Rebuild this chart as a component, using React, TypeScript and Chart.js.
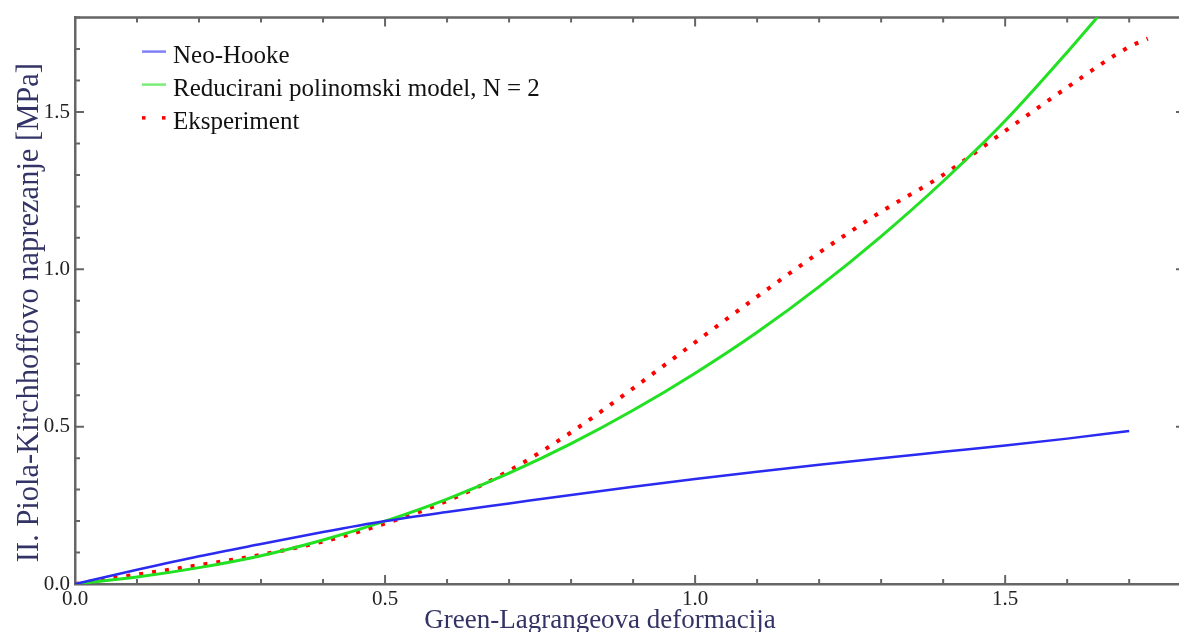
import React, { useEffect, useRef } from 'react';
import { Chart, registerables } from 'chart.js';

Chart.register(...registerables);

// ---- data ----
const strainNeo = [0, 0.1, 0.2, 0.3, 0.4, 0.5, 0.6, 0.7, 0.8, 0.9, 1.0, 1.1, 1.2, 1.3, 1.4, 1.5, 1.6, 1.7];
const stressNeo = [0, 0.045, 0.088, 0.127, 0.165, 0.2, 0.229, 0.256, 0.283, 0.309, 0.334, 0.357, 0.379, 0.4, 0.42, 0.44, 0.462, 0.486];

const strainPoly = [0, 0.1, 0.2, 0.3, 0.4, 0.5, 0.6, 0.7, 0.8, 0.9, 1.0, 1.1, 1.2, 1.3, 1.4, 1.5, 1.6, 1.7];
const stressPoly = [0, 0.022, 0.052, 0.09, 0.14, 0.2, 0.27, 0.352, 0.446, 0.552, 0.67, 0.8, 0.945, 1.105, 1.28, 1.472, 1.69, 1.92];

const strainExp = [0, 0.1, 0.2, 0.3, 0.4, 0.5, 0.6, 0.7, 0.8, 0.9, 1.0, 1.1, 1.2, 1.3, 1.4, 1.5, 1.6, 1.7, 1.73];
const stressExp = [0, 0.03, 0.06, 0.093, 0.135, 0.192, 0.264, 0.36, 0.482, 0.622, 0.768, 0.913, 1.053, 1.183, 1.3, 1.44, 1.578, 1.707, 1.733];

const seriesLabels = ['Neo-Hooke', 'Reducirani polinomski model, N = 2', 'Eksperiment'];
const seriesColors = ['#2a2af0', '#22e022', '#ff0000'];
const xTickLabels = ['0.0', '0.5', '1.0', '1.5'];
const yTickLabels = ['0.0', '0.5', '1.0', '1.5'];
const xTitle = 'Green-Lagrangeova deformacija';
const yTitle = 'II. Piola-Kirchhoffovo naprezanje [MPa]';

const X_MIN = 0;
const X_MAX = 1.79;
const Y_MIN = 0;
const Y_MAX = 1.8;
const MINOR_STEP = 0.1;
const MAJOR_STEP = 0.5;

const SERIF = '"Liberation Serif", "Times New Roman", serif';
const AXIS_COLOR = '#666666';
const TITLE_COLOR = '#333366';

const isMajor = (v: number) => Math.abs(v / MAJOR_STEP - Math.round(v / MAJOR_STEP)) < 1e-6;

const zip = (xs: number[], ys: number[]) => xs.map((x, i) => ({ x, y: ys[i] }));

const frameTicksPlugin = {
  id: 'frameTicks',
  beforeDatasetsDraw(chart: any) {
    const { ctx, chartArea } = chart;
    const { left, right, top, bottom } = chartArea;
    const xs = chart.scales.x;
    const ys = chart.scales.y;
    ctx.save();
    ctx.strokeStyle = AXIS_COLOR;
    ctx.lineWidth = 2.5;
    ctx.beginPath();
    ctx.moveTo(left, top);
    ctx.lineTo(right, top);
    ctx.moveTo(right, top);
    ctx.lineTo(right, bottom);
    ctx.stroke();
    ctx.lineWidth = 2;
    ctx.beginPath();
    xs.ticks.forEach((t: any) => {
      const p = xs.getPixelForValue(t.value);
      const len = isMajor(t.value) ? 9 : 5;
      ctx.moveTo(p, bottom);
      ctx.lineTo(p, bottom - len);
      ctx.moveTo(p, top);
      ctx.lineTo(p, top + len);
    });
    ys.ticks.forEach((t: any) => {
      const p = ys.getPixelForValue(t.value);
      const len = isMajor(t.value) ? 9 : 5;
      ctx.moveTo(left, p);
      ctx.lineTo(left + len, p);
      ctx.moveTo(right, p);
      ctx.lineTo(right - len, p);
    });
    ctx.stroke();
    ctx.restore();
  },
  afterDraw(chart: any) {
    const { ctx, chartArea } = chart;
    ctx.save();
    ctx.fillStyle = TITLE_COLOR;
    ctx.textAlign = 'center';
    ctx.textBaseline = 'middle';
    // x-axis title
    ctx.font = `27px ${SERIF}`;
    ctx.fillText(xTitle, chartArea.left + 525, chartArea.bottom + 37);
    // y-axis title
    ctx.font = `30.5px ${SERIF}`;
    ctx.translate(30, chartArea.top + 295);
    ctx.rotate(-Math.PI / 2);
    ctx.fillText(yTitle, 0, 0);
    ctx.restore();
  },
};

const innerLegendPlugin = {
  id: 'innerLegend',
  afterDatasetsDraw(chart: any) {
    const { ctx, chartArea } = chart;
    const x0 = chartArea.left + 67;
    const x1 = chartArea.left + 91;
    const tx = chartArea.left + 98;
    ctx.save();
    ctx.font = `25px ${SERIF}`;
    ctx.textBaseline = 'middle';
    ctx.textAlign = 'left';
    chart.data.datasets.forEach((ds: any, i: number) => {
      const ly = chartArea.top + 34 + i * 33;
      if (ds.borderDash && ds.borderDash.length) {
        ctx.fillStyle = ds.borderColor;
        ctx.fillRect(x0, ly - 1.5, 3.5, 3.5);
        ctx.fillRect(x1 - 4, ly - 1.5, 3.5, 3.5);
      } else {
        ctx.strokeStyle = ds.borderColor;
        ctx.globalAlpha = 0.6;
        ctx.lineWidth = 2.5;
        ctx.beginPath();
        ctx.moveTo(x0, ly);
        ctx.lineTo(x1, ly);
        ctx.stroke();
        ctx.globalAlpha = 1;
      }
      ctx.fillStyle = '#111111';
      ctx.fillText(ds.label, tx, ly + 5);
    });
    ctx.restore();
  },
};

export default function App() {
  const canvasRef = useRef<HTMLCanvasElement | null>(null);

  useEffect(() => {
    if (!canvasRef.current) return;
    const chart = new Chart(canvasRef.current, {
      type: 'line',
      data: {
        datasets: [
          {
            label: seriesLabels[0],
            data: zip(strainNeo, stressNeo),
            borderColor: seriesColors[0],
            borderWidth: 2.5,
            pointRadius: 0,
            cubicInterpolationMode: 'monotone',
            fill: false,
          },
          {
            label: seriesLabels[1],
            data: zip(strainPoly, stressPoly),
            borderColor: seriesColors[1],
            borderWidth: 3,
            pointRadius: 0,
            cubicInterpolationMode: 'monotone',
            fill: false,
          },
          {
            label: seriesLabels[2],
            data: zip(strainExp, stressExp),
            borderColor: seriesColors[2],
            borderWidth: 4,
            borderDash: [4, 9],
            borderCapStyle: 'butt',
            pointRadius: 0,
            cubicInterpolationMode: 'monotone',
            fill: false,
          },
        ],
      },
      options: {
        animation: false,
        responsive: true,
        maintainAspectRatio: false,
        layout: { padding: { top: 16, right: 3, left: 0, bottom: 0 } },
        plugins: {
          legend: { display: false },
          tooltip: { enabled: false },
        },
        scales: {
          x: {
            type: 'linear',
            min: X_MIN,
            max: X_MAX,
            grid: { display: false, drawTicks: false },
            border: { display: true, color: AXIS_COLOR, width: 2.5 },
            ticks: {
              stepSize: MINOR_STEP,
              autoSkip: false,
              includeBounds: false,
              maxRotation: 0,
              padding: 3,
              color: '#222222',
              font: { family: SERIF, size: 21 },
              callback: (v: any) => (isMajor(Number(v)) ? xTickLabels[Math.round(Number(v) / MAJOR_STEP)] : ''),
            },
            title: { display: false },
            afterFit: (s: any) => {
              s.height = 58;
            },
          },
          y: {
            type: 'linear',
            min: Y_MIN,
            max: Y_MAX,
            grid: { display: false, drawTicks: false },
            border: { display: true, color: AXIS_COLOR, width: 2.5 },
            ticks: {
              stepSize: MINOR_STEP,
              autoSkip: false,
              includeBounds: false,
              padding: 5,
              color: '#222222',
              font: { family: SERIF, size: 21 },
              callback: (v: any) => (isMajor(Number(v)) ? yTickLabels[Math.round(Number(v) / MAJOR_STEP)] : ''),
            },
            title: { display: false },
            afterFit: (s: any) => {
              s.width = 75;
            },
          },
        },
      } as any,
      plugins: [frameTicksPlugin, innerLegendPlugin],
    });
    return () => chart.destroy();
  }, []);

  return (
    <div style={{ position: 'fixed', left: 0, top: 0, width: 1179, height: 632, overflow: 'hidden', background: '#ffffff' }}>
      <div style={{ position: 'relative', width: 1188, height: 642 }}>
        <canvas ref={canvasRef} />
      </div>
    </div>
  );
}
